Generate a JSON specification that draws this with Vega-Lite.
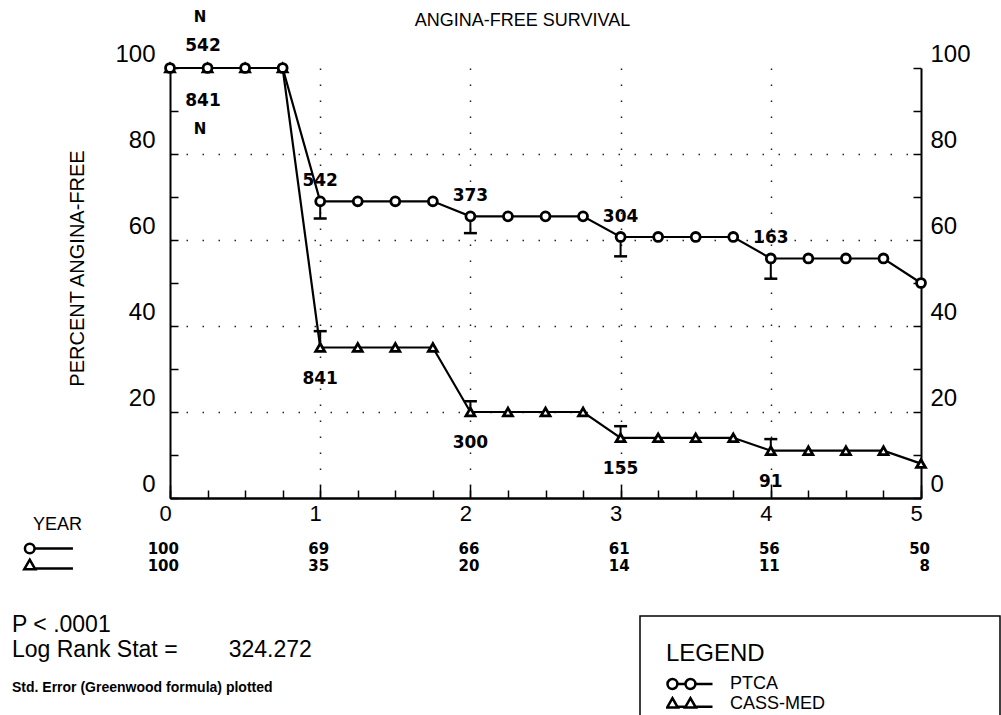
{
  "$schema": "https://vega.github.io/schema/vega-lite/v6.json",
  "background": "white",
  "autosize": {"type": "none"},
  "padding": {"left": 170, "top": 68, "right": 831, "bottom": 647},
  "bounds": "flush",
  "spacing": 42,
  "config": {
    "view": {"stroke": null},
    "font": "Liberation Sans",
    "axis": {"domainColor": "black", "domainWidth": 2, "tickColor": "black", "tickWidth": 1.5, "labelColor": "black", "titleColor": "black", "labelFont": "Liberation Sans", "titleFont": "Liberation Sans", "titleFontWeight": "normal", "labelFlush": false, "labelOverlap": false},
    "title": {"color": "black", "subtitleColor": "black", "font": "Liberation Sans", "subtitleFont": "Liberation Sans"},
    "legend": {"labelColor": "black", "titleColor": "black", "labelFont": "Liberation Sans", "titleFont": "Liberation Sans"}
  },
  "resolve": {"scale": {"shape": "independent"}, "legend": {"shape": "independent"}},
  "datasets": {
    "survival": [
      {"group": "PTCA", "year": 0, "pct": 100}, {"group": "PTCA", "year": 0.25, "pct": 100}, {"group": "PTCA", "year": 0.5, "pct": 100}, {"group": "PTCA", "year": 0.75, "pct": 100},
      {"group": "PTCA", "year": 1, "pct": 69}, {"group": "PTCA", "year": 1.25, "pct": 69}, {"group": "PTCA", "year": 1.5, "pct": 69}, {"group": "PTCA", "year": 1.75, "pct": 69},
      {"group": "PTCA", "year": 2, "pct": 65.5}, {"group": "PTCA", "year": 2.25, "pct": 65.5}, {"group": "PTCA", "year": 2.5, "pct": 65.5}, {"group": "PTCA", "year": 2.75, "pct": 65.5},
      {"group": "PTCA", "year": 3, "pct": 60.7}, {"group": "PTCA", "year": 3.25, "pct": 60.7}, {"group": "PTCA", "year": 3.5, "pct": 60.7}, {"group": "PTCA", "year": 3.75, "pct": 60.7},
      {"group": "PTCA", "year": 4, "pct": 55.7}, {"group": "PTCA", "year": 4.25, "pct": 55.7}, {"group": "PTCA", "year": 4.5, "pct": 55.7}, {"group": "PTCA", "year": 4.75, "pct": 55.7},
      {"group": "PTCA", "year": 5, "pct": 50},
      {"group": "CASS-MED", "year": 0, "pct": 100}, {"group": "CASS-MED", "year": 0.25, "pct": 100}, {"group": "CASS-MED", "year": 0.5, "pct": 100}, {"group": "CASS-MED", "year": 0.75, "pct": 100},
      {"group": "CASS-MED", "year": 1, "pct": 35}, {"group": "CASS-MED", "year": 1.25, "pct": 35}, {"group": "CASS-MED", "year": 1.5, "pct": 35}, {"group": "CASS-MED", "year": 1.75, "pct": 35},
      {"group": "CASS-MED", "year": 2, "pct": 20}, {"group": "CASS-MED", "year": 2.25, "pct": 20}, {"group": "CASS-MED", "year": 2.5, "pct": 20}, {"group": "CASS-MED", "year": 2.75, "pct": 20},
      {"group": "CASS-MED", "year": 3, "pct": 14}, {"group": "CASS-MED", "year": 3.25, "pct": 14}, {"group": "CASS-MED", "year": 3.5, "pct": 14}, {"group": "CASS-MED", "year": 3.75, "pct": 14},
      {"group": "CASS-MED", "year": 4, "pct": 11}, {"group": "CASS-MED", "year": 4.25, "pct": 11}, {"group": "CASS-MED", "year": 4.5, "pct": 11}, {"group": "CASS-MED", "year": 4.75, "pct": 11},
      {"group": "CASS-MED", "year": 5, "pct": 8}
    ],
    "errors": [
      {"group": "PTCA", "year": 1, "pct": 69, "bound": 65},
      {"group": "PTCA", "year": 2, "pct": 65.5, "bound": 61.6},
      {"group": "PTCA", "year": 3, "pct": 60.7, "bound": 56.2},
      {"group": "PTCA", "year": 4, "pct": 55.7, "bound": 51},
      {"group": "CASS-MED", "year": 1, "pct": 35, "bound": 38.8},
      {"group": "CASS-MED", "year": 2, "pct": 20, "bound": 22.5},
      {"group": "CASS-MED", "year": 3, "pct": 14, "bound": 16.7},
      {"group": "CASS-MED", "year": 4, "pct": 11, "bound": 13.7}
    ],
    "atrisk": [
      {"group": "PTCA", "year": 0, "pct": 100, "n": 542},
      {"group": "PTCA", "year": 1, "pct": 69, "n": 542},
      {"group": "PTCA", "year": 2, "pct": 65.5, "n": 373},
      {"group": "PTCA", "year": 3, "pct": 60.7, "n": 304},
      {"group": "PTCA", "year": 4, "pct": 55.7, "n": 163},
      {"group": "CASS-MED", "year": 0, "pct": 100, "n": 841},
      {"group": "CASS-MED", "year": 1, "pct": 35, "n": 841},
      {"group": "CASS-MED", "year": 2, "pct": 20, "n": 300},
      {"group": "CASS-MED", "year": 3, "pct": 14, "n": 155},
      {"group": "CASS-MED", "year": 4, "pct": 11, "n": 91}
    ],
    "table": [
      {"group": "PTCA", "year": 0, "pct": 100}, {"group": "PTCA", "year": 1, "pct": 69}, {"group": "PTCA", "year": 2, "pct": 66},
      {"group": "PTCA", "year": 3, "pct": 61}, {"group": "PTCA", "year": 4, "pct": 56}, {"group": "PTCA", "year": 5, "pct": 50},
      {"group": "CASS-MED", "year": 0, "pct": 100}, {"group": "CASS-MED", "year": 1, "pct": 35}, {"group": "CASS-MED", "year": 2, "pct": 20},
      {"group": "CASS-MED", "year": 3, "pct": 14}, {"group": "CASS-MED", "year": 4, "pct": 11}, {"group": "CASS-MED", "year": 5, "pct": 8}
    ],
    "groups": [{"group": "PTCA"}, {"group": "CASS-MED"}]
  },
  "vconcat": [
    {
      "width": 751,
      "height": 430,
      "title": {"text": "ANGINA-FREE SURVIVAL", "fontSize": 18, "fontWeight": "normal", "anchor": "middle", "frame": "group", "dx": -23, "offset": -34, "baseline": "alphabetic"},
      "resolve": {"axis": {"x": "independent", "y": "independent"}},
      "layer": [
        {
          "data": {"name": "survival"},
          "mark": {"type": "line", "color": "black", "strokeWidth": 2.2},
          "encoding": {
            "x": {"field": "year", "type": "quantitative", "scale": {"domain": [0, 5], "nice": false, "zero": false},
              "axis": {"orient": "bottom", "values": [0, 1, 2, 3, 4, 5], "tickSize": -13, "labelFontSize": 22, "labelPadding": 18, "labelOffset": -5,
                "grid": true, "gridDash": [1.5, 14.5], "gridColor": "#222", "gridWidth": 1.5,
                "gridOpacity": {"condition": {"test": "datum.value > 0 && datum.value < 5", "value": 1}, "value": 0},
                "title": "YEAR", "titleFontSize": 18, "titleColor": "black", "titleX": -113, "titleY": 26, "titleAlign": "center", "titleBaseline": "middle"}},
            "y": {"field": "pct", "type": "quantitative", "scale": {"domain": [0, 100], "nice": false},
              "axis": {"orient": "left", "values": [0, 10, 20, 30, 40, 50, 60, 70, 80, 90, 100], "tickSize": -8, "labelFontSize": 24, "labelPadding": 23, "labelOffset": -14,
                "labelExpr": "datum.value % 20 === 0 ? datum.label : ''",
                "grid": true, "gridDash": [1.5, 14.5], "gridColor": "#222", "gridWidth": 1.5,
                "gridOpacity": {"condition": {"test": "datum.value > 0 && datum.value < 100 && datum.value % 20 === 0", "value": 1}, "value": 0},
                "title": "PERCENT ANGINA-FREE", "titleColor": "black", "titleFontSize": 20, "titleX": -93, "titleY": 200, "titleAlign": "center", "titleBaseline": "middle", "titleAngle": -90}},
            "detail": {"field": "group", "type": "nominal"}
          }
        },
        {
          "data": {"name": "errors"},
          "mark": {"type": "rule", "color": "black", "strokeWidth": 2},
          "encoding": {
            "x": {"field": "year", "type": "quantitative", "axis": null},
            "y": {"field": "pct", "type": "quantitative", "axis": null},
            "y2": {"field": "bound"}
          }
        },
        {
          "data": {"name": "errors"},
          "mark": {"type": "tick", "orient": "horizontal", "color": "black", "size": 13, "thickness": 2.5, "opacity": 1},
          "encoding": {
            "x": {"field": "year", "type": "quantitative", "axis": null},
            "y": {"field": "bound", "type": "quantitative", "axis": null}
          }
        },
        {
          "data": {"name": "survival"},
          "mark": {"type": "point", "filled": true, "fill": "white", "stroke": "black", "strokeWidth": 2.8, "size": 80, "opacity": 1},
          "encoding": {
            "x": {"field": "year", "type": "quantitative",
              "axis": {"orient": "bottom", "values": [0, 0.25, 0.5, 0.75, 1, 1.25, 1.5, 1.75, 2, 2.25, 2.5, 2.75, 3, 3.25, 3.5, 3.75, 4, 4.25, 4.5, 4.75, 5], "tickSize": -8, "labels": false, "grid": false, "title": null}},
            "y": {"field": "pct", "type": "quantitative",
              "axis": {"orient": "right", "values": [0, 10, 20, 30, 40, 50, 60, 70, 80, 90, 100], "tickSize": -8, "labelFontSize": 24, "labelPadding": 17, "labelOffset": -14,
                "labelExpr": "datum.value % 20 === 0 ? datum.label : ''", "grid": false, "title": null}},
            "shape": {"field": "group", "type": "nominal", "scale": {"domain": ["PTCA", "CASS-MED"], "range": ["circle", "triangle-up"]}, "legend": null},
            "order": {"field": "group", "type": "nominal"}
          }
        },
        {
          "data": {"name": "atrisk"},
          "transform": [{"filter": "datum.group === 'PTCA' && datum.year > 0"}],
          "mark": {"type": "text", "font": "DejaVu Sans", "fontWeight": "bold", "fontSize": 17, "align": "center", "baseline": "middle", "dy": -20, "color": "black"},
          "encoding": {
            "x": {"field": "year", "type": "quantitative", "axis": null},
            "y": {"field": "pct", "type": "quantitative", "axis": null},
            "text": {"field": "n", "type": "quantitative"}
          }
        },
        {
          "data": {"name": "atrisk"},
          "transform": [{"filter": "datum.group === 'CASS-MED' && datum.year > 0"}],
          "mark": {"type": "text", "font": "DejaVu Sans", "fontWeight": "bold", "fontSize": 17, "align": "center", "baseline": "middle", "dy": 31, "color": "black"},
          "encoding": {
            "x": {"field": "year", "type": "quantitative", "axis": null},
            "y": {"field": "pct", "type": "quantitative", "axis": null},
            "text": {"field": "n", "type": "quantitative"}
          }
        },
        {
          "data": {"name": "atrisk"},
          "transform": [{"filter": "datum.group === 'PTCA' && datum.year === 0"}],
          "mark": {"type": "text", "font": "DejaVu Sans", "fontWeight": "bold", "fontSize": 17, "align": "center", "baseline": "middle", "dx": 33, "dy": -22, "color": "black"},
          "encoding": {
            "x": {"field": "year", "type": "quantitative", "axis": null},
            "y": {"field": "pct", "type": "quantitative", "axis": null},
            "text": {"field": "n", "type": "quantitative"}
          }
        },
        {
          "data": {"name": "atrisk"},
          "transform": [{"filter": "datum.group === 'CASS-MED' && datum.year === 0"}],
          "mark": {"type": "text", "font": "DejaVu Sans", "fontWeight": "bold", "fontSize": 17, "align": "center", "baseline": "middle", "dx": 33, "dy": 33, "color": "black"},
          "encoding": {
            "x": {"field": "year", "type": "quantitative", "axis": null},
            "y": {"field": "pct", "type": "quantitative", "axis": null},
            "text": {"field": "n", "type": "quantitative"}
          }
        },
        {
          "data": {"name": "atrisk"},
          "transform": [{"filter": "datum.group === 'PTCA' && datum.year === 0"}],
          "mark": {"type": "text", "font": "DejaVu Sans", "fontWeight": "bold", "fontSize": 15, "align": "center", "baseline": "middle", "dx": 30, "dy": -51, "color": "black"},
          "encoding": {
            "x": {"field": "year", "type": "quantitative", "axis": null},
            "y": {"field": "pct", "type": "quantitative", "axis": null},
            "text": {"value": "N"}
          }
        },
        {
          "data": {"name": "atrisk"},
          "transform": [{"filter": "datum.group === 'CASS-MED' && datum.year === 0"}],
          "mark": {"type": "text", "font": "DejaVu Sans", "fontWeight": "bold", "fontSize": 15, "align": "center", "baseline": "middle", "dx": 30, "dy": 61, "color": "black"},
          "encoding": {
            "x": {"field": "year", "type": "quantitative", "axis": null},
            "y": {"field": "pct", "type": "quantitative", "axis": null},
            "text": {"value": "N"}
          }
        }
      ]
    },
    {
      "width": 751,
      "height": 34,
      "title": {"text": ["P < .0001", "Log Rank Stat =\u00a0\u00a0\u00a0\u00a0\u00a0\u00a0\u00a0\u00a0324.272"], "orient": "bottom", "anchor": "start", "frame": "group", "dx": -158, "offset": 40, "fontSize": 23, "fontWeight": "normal", "lineHeight": 25, "baseline": "top",
        "subtitle": "Std. Error (Greenwood formula) plotted", "subtitleFontSize": 14, "subtitleFontWeight": "bold", "subtitlePadding": 19},
      "layer": [
        {
          "data": {"name": "table"},
          "mark": {"type": "text", "font": "DejaVu Sans", "fontWeight": "bold", "fontSize": 15, "align": "right", "baseline": "middle", "dx": 9, "color": "black"},
          "encoding": {
            "x": {"field": "year", "type": "quantitative", "scale": {"domain": [0, 5], "nice": false, "zero": false}, "axis": null},
            "y": {"field": "group", "type": "nominal", "scale": {"type": "point", "domain": ["PTCA", "CASS-MED"], "padding": 0.5}, "axis": null},
            "text": {"field": "pct", "type": "quantitative"}
          }
        },
        {
          "data": {"name": "groups"},
          "mark": {"type": "point", "filled": true, "fill": "white", "stroke": "black", "strokeWidth": 2.5, "size": 2304, "opacity": 1},
          "encoding": {
            "x": {"datum": -0.806, "type": "quantitative"},
            "y": {"field": "group", "type": "nominal"},
            "shape": {"field": "group", "type": "nominal", "scale": {"domain": ["PTCA", "CASS-MED"], "range": ["M-1,0A0.2,0.2,0,1,1,-0.6,0A0.2,0.2,0,1,1,-1,0ZM-0.6,0L1,0", "M-0.8,-0.24L-0.57,0.16L-1.03,0.16ZM-0.57,0.12L1,0.12"]}, "legend": null}
          }
        }
      ]
    },
    {
      "bounds": "flush",
      "spacing": 10,
      "resolve": {"scale": {"shape": "independent"}, "legend": {"shape": "independent"}},
      "hconcat": [
        {
          "width": 460,
          "height": 10,
          "data": {"name": "groups"},
          "mark": {"type": "point", "opacity": 0}
        },
        {
          "width": 360,
          "height": 110,
          "view": {"stroke": "black", "strokeWidth": 1.5},
          "data": {"name": "groups"},
          "mark": {"type": "point", "filled": false, "color": "black", "strokeWidth": 2.5, "size": 2025, "opacity": 0},
          "encoding": {
            "shape": {"field": "group", "type": "nominal",
              "scale": {"domain": ["PTCA", "CASS-MED"], "range": [
                "M-1,0A0.22,0.22,0,1,1,-0.56,0A0.22,0.22,0,1,1,-1,0ZM-0.56,0L-0.2,0M-0.2,0A0.22,0.22,0,1,1,0.24,0A0.22,0.22,0,1,1,-0.2,0ZM0.24,0L1,0",
                "M-0.78,-0.26L-0.54,0.16L-1.02,0.16ZM-0.54,0.12L-0.22,0.12M0.02,-0.26L0.26,0.16L-0.22,0.16ZM0.26,0.12L1,0.12"]},
              "legend": {"orient": "top-left", "offset": 26, "padding": 0, "title": "LEGEND", "titleFontSize": 24, "titleFontWeight": "normal", "titlePadding": 10,
                "symbolSize": 2025, "symbolStrokeWidth": 2.5, "symbolStrokeColor": "black", "symbolOpacity": 1,
                "labelFontSize": 18, "labelOffset": 16, "clipHeight": 16, "rowPadding": 2}}
          }
        }
      ]
    }
  ]
}
